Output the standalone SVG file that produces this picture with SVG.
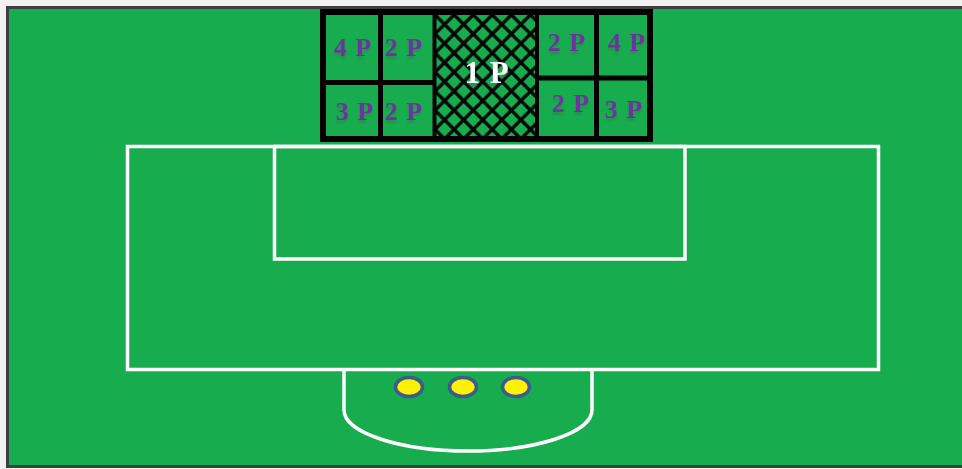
<svg xmlns="http://www.w3.org/2000/svg" width="962" height="469" viewBox="0 0 962 469">
  <defs>
    <style>
      .line { fill: none; stroke: #ffffff; stroke-width: 3.5; }
      .goal { fill: none; stroke: #000000; }
      .lbl { font-family: "Liberation Serif", "Times New Roman", serif; font-weight: bold; font-size: 26px; fill: #7030A0; text-anchor: middle; letter-spacing: 1px; }
      .lbl1 { font-family: "Liberation Serif", "Times New Roman", serif; font-weight: bold; font-size: 31px; fill: #ffffff; text-anchor: middle; letter-spacing: 1px; }
      .ball { fill: #FFF200; stroke: #3D5B8C; stroke-width: 3.5; }
    </style>
    <pattern id="net" patternUnits="userSpaceOnUse" width="13.5" height="13.5" patternTransform="translate(435 12) rotate(45)">
      <line x1="0" y1="2" x2="13.5" y2="2" stroke="#000" stroke-width="3.3"/>
      <line x1="2" y1="0" x2="2" y2="13.5" stroke="#000" stroke-width="3.3"/>
    </pattern>
    <filter id="sh" x="-20%" y="-20%" width="140%" height="160%">
      <feDropShadow dx="0" dy="3" stdDeviation="1" flood-color="#444444" flood-opacity="0.3"/>
    </filter>
  </defs>

  <rect x="0" y="0" width="962" height="469" fill="#f2f2f2"/>
  <rect id="field" x="7.5" y="7.5" width="970" height="459" fill="#17AD4F" stroke="#3f3f3f" stroke-width="3"/>

  <g id="pitch-lines">
    <rect id="penalty-area" class="line" x="127.5" y="146.5" width="751" height="223"/>
    <rect id="goal-area" class="line" x="274.5" y="146.5" width="410.5" height="112.5"/>
    <path id="penalty-arc" class="line" d="M344 371 V410 A124 41 0 0 0 592 410 V371"/>
  </g>

  <g id="goal">
    <rect x="323" y="12" width="327" height="127" fill="#17AD4F"/>
    <rect id="net-area" x="435" y="12" width="101" height="127" fill="url(#net)"/>
    <g class="goal">
      <line x1="434.5" y1="12" x2="434.5" y2="139" stroke-width="4"/>
      <line x1="537" y1="12" x2="537" y2="139" stroke-width="4"/>
      <line x1="380.5" y1="12" x2="380.5" y2="139" stroke-width="5"/>
      <line x1="323" y1="82.5" x2="434" y2="82.5" stroke-width="5"/>
      <line x1="596.5" y1="12" x2="596.5" y2="139" stroke-width="5"/>
      <line x1="537" y1="78" x2="650" y2="78" stroke-width="5"/>
      <rect x="323" y="12" width="327" height="127" stroke-width="6"/>
    </g>
  </g>

  <g id="labels" filter="url(#sh)">
    <text class="lbl" x="353" y="56">4 P</text>
    <text class="lbl" x="404" y="56">2 P</text>
    <text class="lbl" x="355" y="120">3 P</text>
    <text class="lbl" x="404" y="120">2 P</text>
    <text class="lbl1" x="487" y="83">1 P</text>
    <text class="lbl" x="567" y="51">2 P</text>
    <text class="lbl" x="627" y="51">4 P</text>
    <text class="lbl" x="571" y="112">2 P</text>
    <text class="lbl" x="624" y="118">3 P</text>
  </g>

  <g id="balls">
    <ellipse class="ball" cx="409" cy="387" rx="13.5" ry="9.5"/>
    <ellipse class="ball" cx="463" cy="387" rx="13.5" ry="9.5"/>
    <ellipse class="ball" cx="516" cy="387" rx="13.5" ry="9.5"/>
  </g>
</svg>
